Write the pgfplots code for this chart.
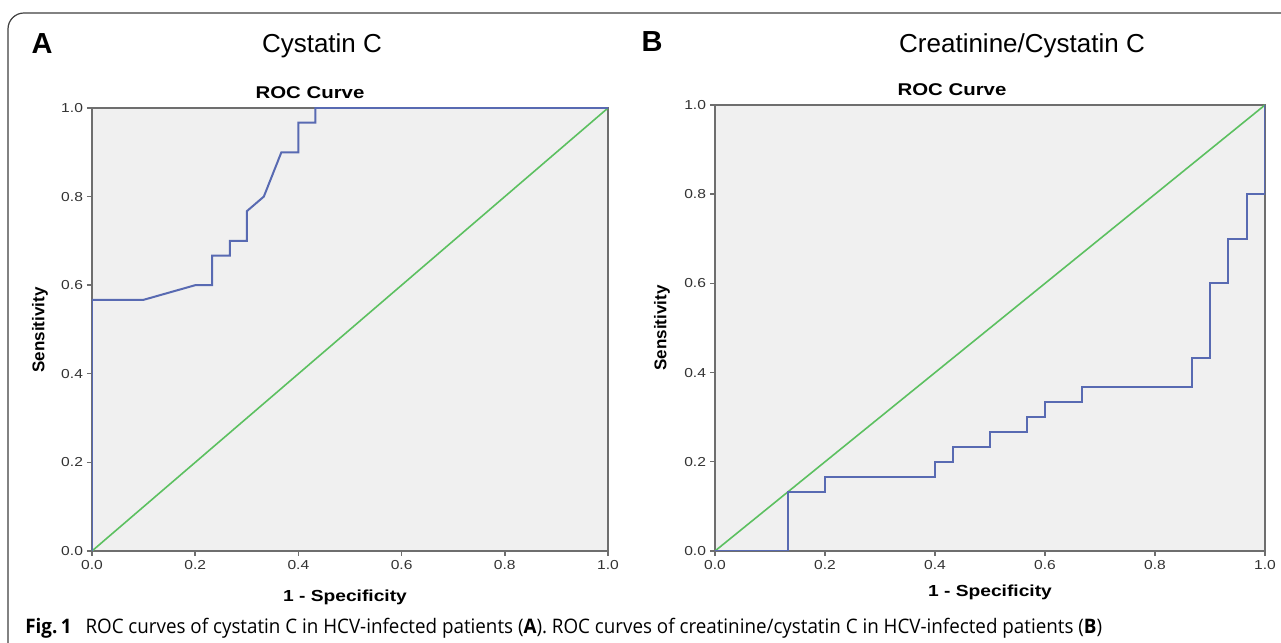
\documentclass[border=0pt]{standalone}
\usepackage{pgfplots}
\pgfplotsset{compat=1.18}
\usepackage{fontspec}
\setmainfont{Liberation Sans}
\newfontfamily\spss[FakeStretch=1.2]{Liberation Sans}
\newfontfamily\capfont[FakeStretch=0.94]{Open Sans}
\definecolor{rocblue}{RGB}{88,106,178}
\definecolor{rocgreen}{RGB}{92,192,96}
\definecolor{axgray}{RGB}{110,110,110}
\definecolor{bg}{RGB}{240,240,240}
\pgfplotsset{
  rocax/.style={
    scale only axis,
    xmin=0,xmax=1,ymin=0,ymax=1,
    xtick={0,0.2,0.4,0.6,0.8,1},
    ytick={0,0.2,0.4,0.6,0.8,1},
    tick align=outside,
    tick pos=left,
    major tick length=2.5pt,
    axis line style={axgray,line width=0.8pt},
    every tick/.style={axgray,line width=0.7pt},
    axis background/.style={fill=bg},
    tick label style={font=\spss\fontsize{6.5}{7}\selectfont, text=black!80},
    xticklabel style={yshift=1.5pt},
    yticklabel style={xshift=1.5pt},
    /pgf/number format/.cd, fixed, fixed zerofill, precision=1, assume math mode=true,
  }
}
\begin{document}
\begin{tikzpicture}[x=1pt,y=1pt]
\useasboundingbox (0,0) rectangle (640.5,321.5);
\clip (0,0) rectangle (640.5,321.5);
\fill[white] (0,0) rectangle (640.5,321.5);
\draw[rounded corners=8pt, black!75, line width=0.6pt] (4,-20) rectangle (680,315);

% Panel A
\begin{axis}[rocax, at={(46pt,46pt)}, anchor=south west, width=258pt, height=221.5pt]
\addplot[rocgreen, line width=0.8pt] coordinates {(0,0) (1,1)};
\addplot[rocblue, line width=1pt] coordinates {
(0,0) (0,0.567) (0.1,0.567) (0.2,0.6) (0.233,0.6) (0.233,0.667) (0.267,0.667)
(0.267,0.7) (0.3,0.7) (0.3,0.767) (0.333,0.8) (0.367,0.9) (0.4,0.9) (0.4,0.967)
(0.433,0.967) (0.433,1) (1,1)};
\end{axis}

% Panel B
\begin{axis}[rocax, at={(357.5pt,46pt)}, anchor=south west, width=275pt, height=223pt]
\addplot[rocgreen, line width=0.8pt] coordinates {(0,0) (1,1)};
\addplot[rocblue, line width=1pt] coordinates {
(0,0) (0.133,0) (0.133,0.133) (0.2,0.133) (0.2,0.167) (0.4,0.167) (0.4,0.2)
(0.433,0.2) (0.433,0.233) (0.5,0.233) (0.5,0.267) (0.567,0.267) (0.567,0.3)
(0.6,0.3) (0.6,0.333) (0.667,0.333) (0.667,0.367) (0.867,0.367) (0.867,0.433)
(0.9,0.433) (0.9,0.6) (0.933,0.6) (0.933,0.7) (0.967,0.7) (0.967,0.8) (1,0.8) (1,1)};
\end{axis}

% texts
\node[font=\bfseries\fontsize{14.5}{16}\selectfont] at (21,299.5) {A};
\node[font=\fontsize{13}{15}\selectfont] at (161,298.5) {Cystatin C};
\node[font=\bfseries\fontsize{14.5}{16}\selectfont] at (326,300.5) {B};
\node[font=\fontsize{13}{15}\selectfont] at (511,298.5) {Creatinine/Cystatin C};

\node[font=\spss\bfseries\fontsize{8.5}{10}\selectfont] at (155,275) {ROC Curve};
\node[font=\spss\bfseries\fontsize{8.5}{10}\selectfont] at (476,276.5) {ROC Curve};

\node[font=\bfseries\fontsize{8.5}{10}\selectfont, rotate=90] at (20,156.5) {Sensitivity};
\node[font=\bfseries\fontsize{8.5}{10}\selectfont, rotate=90] at (331,157.5) {Sensitivity};

\node[font=\spss\bfseries\fontsize{8}{10}\selectfont] at (172.5,23) {1 - Specificity};
\node[font=\spss\bfseries\fontsize{8}{10}\selectfont] at (495,25.5) {1 - Specificity};

\node[anchor=base west, font=\capfont\fontsize{10}{12}\selectfont, inner sep=0pt] at (12.5,4.5)
  {\textbf{Fig.\,1}\hspace{7pt}ROC curves of cystatin C in HCV-infected patients (\textbf{A}). ROC curves of creatinine/cystatin C in HCV-infected patients (\textbf{B})};
\end{tikzpicture}
\end{document}
